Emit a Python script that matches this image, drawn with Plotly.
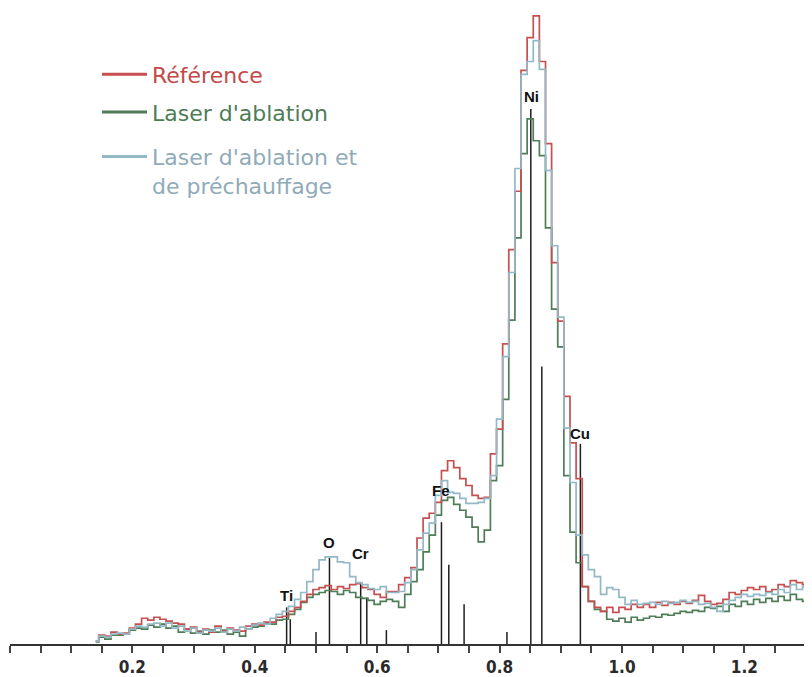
import plotly.graph_objects as go

# Channel energies (keV), 10 eV channels
energy_kev = [round(0.14 + 0.01 * i, 2) for i in range(118)]

reference_counts = [
    3, 9, 8, 12, 10, 11, 16, 20, 26, 24,
    27, 25, 23, 21, 20, 15, 17, 12, 15, 12,
    18, 13, 16, 14, 13, 18, 20, 19, 22, 22,
    27, 28, 33, 37, 43, 50, 55, 57, 59, 55,
    58, 56, 60, 61, 57, 55, 50, 47, 53, 53,
    60, 67, 77, 107, 127, 132, 143, 175, 185, 178,
    167, 160, 150, 147, 148, 192, 217, 303, 398, 457,
    579, 612, 634, 588, 505, 385, 326, 250, 203, 167,
    58, 43, 37, 33, 37, 32, 37, 35, 40, 37,
    40, 37, 42, 39, 42, 40, 43, 41, 44, 49,
    43, 40, 41, 45, 52, 50, 54, 57, 55, 58,
    53, 55, 60, 58, 64, 62, 60, 62,
]

ablation_counts = [
    2, 7, 5, 9, 9, 10, 14, 16, 15, 19,
    17, 20, 16, 18, 12, 15, 11, 13, 10, 14,
    12, 14, 10, 12, 8, 15, 17, 18, 21, 20,
    24, 25, 30, 35, 42, 47, 50, 52, 54, 53,
    50, 54, 52, 47, 46, 44, 40, 43, 45, 43,
    37, 50, 63, 75, 93, 110, 130, 145, 148, 141,
    135, 128, 118, 103, 115, 165, 180, 247, 327, 410,
    495, 530, 508, 493, 420, 338, 300, 170, 113, 82,
    58, 43, 35, 33, 25, 23, 26, 22, 27, 24,
    26, 28, 27, 30, 29, 31, 33, 32, 34, 33,
    37, 36, 38, 33, 40, 38, 43, 40, 45, 42,
    46, 43, 48, 44, 50, 45, 43, 46,
]

preheat_counts = [
    3, 8, 7, 10, 11, 10, 15, 18, 17, 20,
    21, 18, 21, 16, 18, 13, 16, 11, 14, 13,
    16, 12, 15, 13, 17, 15, 19, 21, 20, 26,
    30, 33, 38, 45, 52, 63, 75, 85, 88, 88,
    83, 82, 68, 62, 60, 56, 55, 58, 52, 52,
    53, 62, 75, 95, 112, 122, 150, 165, 153, 152,
    147, 142, 142, 143, 147, 170, 227, 290, 375, 480,
    575, 588, 609, 580, 478, 402, 330, 218, 163, 110,
    90, 75, 68, 50, 57, 55, 47, 40, 44, 40,
    41, 42, 40, 43, 41, 42, 44, 42, 43, 40,
    41, 37, 33, 40, 44, 47, 50, 48, 50, 49,
    52, 50, 55, 52, 60, 55, 58, 56,
]

# Element marker lines (KLM markers)
marker_kev = [0.452, 0.458, 0.500, 0.522, 0.573, 0.583, 0.615, 0.705, 0.717, 0.742, 0.812, 0.851, 0.869, 0.932]
marker_height = [37, 25, 12, 87, 61, 47, 14, 123, 80, 40, 12, 540, 280, 202]

element_names = ["Ti", "O", "Cr", "Fe", "Ni", "Cu"]
element_label_kev = [0.452, 0.522, 0.573, 0.705, 0.852, 0.932]
element_label_height = [49, 102, 91, 155, 553, 212]

series_names = ["Référence", "Laser d'ablation", "Laser d'ablation et<br>de préchauffage"]
series_colors = ["#c65050", "#4f7d57", "#93b8c6"]
text_colors = ["#c44848", "#4e7c57", "#90abb8"]

tick_vals = [round(0.05 * k, 2) for k in range(27)]
tick_labels = ["0.2", "0.4", "0.6", "0.8", "1.0", "1.2"]

# page body has an 8px margin in the written html
BODY = 8
W, H = 804, 669
ML, MR, MT, MB = 2, 0, 0, 27
PW, PH = W - ML - MR, H - MT - MB
PX_PER_KEV = 612.0

fig = go.Figure()

# marker lines
mx, my = [], []
for e, h in zip(marker_kev, marker_height):
    mx += [e, e, None]
    my += [0, h, None]
fig.add_trace(go.Scatter(x=mx, y=my, mode="lines", line=dict(color="#1e1e1e", width=1.5),
                         hoverinfo="skip", showlegend=False))

for vals, col, name in zip([ablation_counts, reference_counts, preheat_counts],
                           [series_colors[1], series_colors[0], series_colors[2]],
                           [series_names[1], series_names[0], series_names[2]]):
    fig.add_trace(go.Scatter(x=energy_kev, y=vals, mode="lines", line_shape="hvh",
                             line=dict(color=col, width=1.7), name=name, showlegend=False))

ticktext = []
for v in tick_vals:
    s = f"{v:.1f}"
    is_major = round(v * 100) % 20 == 0 and s in tick_labels
    ticktext.append(f"<b>{s}</b>" if is_major else "")

fig.update_layout(
    width=W, height=H,
    margin=dict(l=ML, r=MR, t=MT, b=MB),
    paper_bgcolor="white", plot_bgcolor="white",
    xaxis=dict(range=[0, PW / PX_PER_KEV], showgrid=False, zeroline=False, showline=True,
               linecolor="#333333", linewidth=2, ticks="outside", ticklen=7, tickwidth=1.5,
               tickcolor="#444444", tickmode="array", tickvals=tick_vals, ticktext=ticktext,
               tickfont=dict(family="Liberation Sans Narrow, DejaVu Sans Condensed, Liberation Sans, sans-serif",
                             size=17, color="#2a2a2a")),
    yaxis=dict(range=[0, PH], visible=False),
)

# element labels
for name, e, h in zip(element_names, element_label_kev, element_label_height):
    fig.add_annotation(x=e, y=h, text=f"<b>{name}</b>", showarrow=False, xanchor="center", yanchor="middle",
                       font=dict(family="Liberation Sans, Arial, sans-serif", size=15, color="#111111"))

# legend drawn manually (positions given in window pixels)
def px_x(p):
    return (p - BODY - ML) / PW

def px_y(p):
    return 1 - (p - BODY - MT) / PH

legend_rows = [75, 113, 158]
text_rows = [76, 114, 174]
for i in range(3):
    fig.add_shape(type="line", xref="paper", yref="paper",
                  x0=px_x(102), x1=px_x(147), y0=px_y(legend_rows[i]), y1=px_y(legend_rows[i]),
                  line=dict(color=series_colors[i], width=3))
    fig.add_annotation(xref="paper", yref="paper", x=px_x(150), y=px_y(text_rows[i]),
                       text=series_names[i], showarrow=False, xanchor="left", yanchor="middle", align="left",
                       font=dict(family="DejaVu Sans, sans-serif", size=22, color=text_colors[i]))

fig.write_html("out.html")
